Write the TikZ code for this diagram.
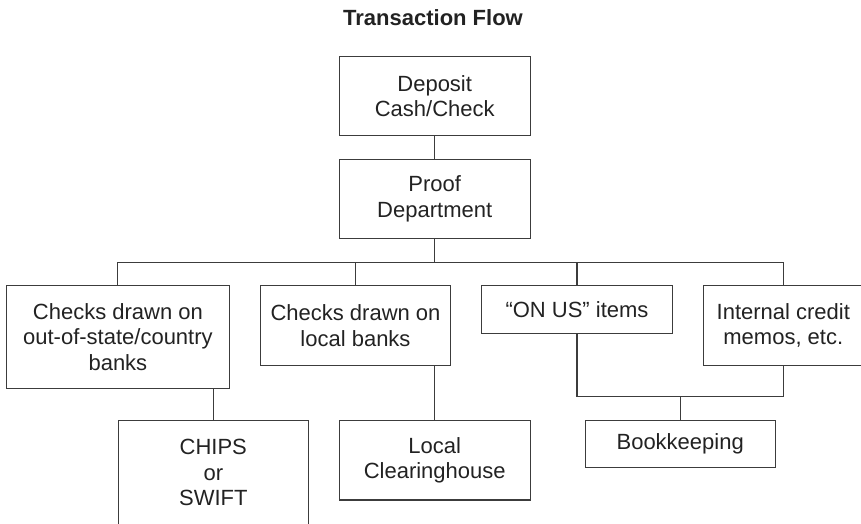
\documentclass[tikz,border=0pt]{standalone}
\usepackage{fontspec}
\setmainfont{Liberation Sans}
\definecolor{ink}{RGB}{34,34,34}
\definecolor{linec}{RGB}{60,60,60}
\begin{document}
\begin{tikzpicture}[x=1pt,y=-1pt,
  box/.style={draw=linec, line width=1.1pt, inner sep=0pt, align=center, text=ink,
    font=\fontsize{22}{25.7}\selectfont},
  conn/.style={draw=linec, line width=1.1pt}]
\useasboundingbox (0,0) rectangle (861,523);
\clip (0,0) rectangle (861,523);
\node[text=ink, font=\bfseries\fontsize{22}{26}\selectfont, anchor=base] (title) at (433,25) {Transaction Flow};
\node[box, minimum width=190.7pt, minimum height=78.6pt] (dep) at (434.7,96) {Deposit\\Cash/Check};
\node[box, minimum width=190.7pt, minimum height=79.3pt] (proof) at (434.7,198.7) {Proof\\Department};
\node[box, minimum width=222.3pt, minimum height=102.6pt] (out) at (117.9,337) {Checks drawn on\\out-of-state/country\\banks};
\node[box, minimum width=190.4pt, minimum height=79.3pt] (local) at (355.5,325.4) {Checks drawn on\\local banks};
\node[box, minimum width=190.6pt, minimum height=47.6pt] (onus) at (577,309.5) {“ON US” items};
\node[box, minimum width=159.3pt, minimum height=79.3pt] (internal) at (783.3,325.4) {Internal credit\\memos, etc.};
\node[box, minimum width=190pt, minimum height=104pt] (chips) at (213.3,472.7) {CHIPS\\or\\SWIFT};
\node[box, minimum width=190.7pt, minimum height=79.3pt] (lch) at (434.7,460.3) {Local\\Clearinghouse};
\node[box, minimum width=190.3pt, minimum height=47pt] (book) at (680.2,444.2) {Bookkeeping};
\coordinate (bus) at (435,262.3);
\coordinate (bus2) at (680,396.7);
\draw[conn] (dep.south) -- (proof.north);
\draw[conn] (proof.south) -- (proof.south |- bus);
\draw[conn] (out.north) |- (internal.north |- bus) -- (internal.north);
\draw[conn] (local.north) -- (local.north |- bus);
\draw[conn] (onus.north) -- (onus.north |- bus);
\draw[conn] (chips.north) -- (chips.north |- out.south);
\draw[conn] (lch.north) -- (lch.north |- local.south);
\draw[conn] (onus.south) |- (internal.south |- bus2) -- (internal.south);
\draw[conn] (book.north) -- (book.north |- bus2);
\end{tikzpicture}
\end{document}
